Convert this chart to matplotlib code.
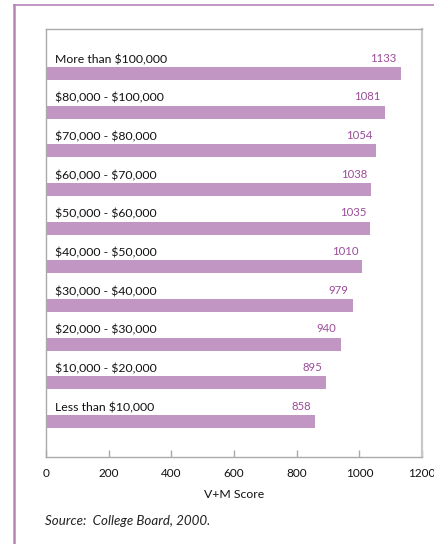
import matplotlib
matplotlib.use("Agg")
import matplotlib.pyplot as plt
from matplotlib.lines import Line2D
import matplotlib.transforms as mtransforms

categories = ["More than $100,000", "$80,000 - $100,000", "$70,000 - $80,000",
              "$60,000 - $70,000", "$50,000 - $60,000", "$40,000 - $50,000",
              "$30,000 - $40,000", "$20,000 - $30,000", "$10,000 - $20,000",
              "Less than $10,000"]
scores = [1133, 1081, 1054, 1038, 1035, 1010, 979, 940, 895, 858]
xticks = [0, 200, 400, 600, 800, 1000, 1200]

W, H = 435, 544
fig = plt.figure(figsize=(W/100, H/100), dpi=100)
plt.rcParams['font.family'] = ['Lato', 'DejaVu Sans']

bar_color = "#C196C2"
val_color = "#9A4D97"
frame_color = "#B784B8"
axis_gray = "#AAAAAA"

# outer purple frame (left and top)
fig.add_artist(Line2D([14/W, 14/W], [0, 1 - 5/H], transform=fig.transFigure,
                      color=frame_color, lw=1.8))
fig.add_artist(Line2D([14/W, 1], [1 - 5/H, 1 - 5/H], transform=fig.transFigure,
                      color=frame_color, lw=1.2))

ax_l, ax_r, ax_t, ax_b = 46, 422, 29, 457
ax = fig.add_axes([ax_l/W, 1 - ax_b/H, (ax_r - ax_l)/W, (ax_b - ax_t)/H])

ypos = list(range(len(categories)))
ax.barh(ypos, scores, height=0.34, color=bar_color, zorder=2)
ax.set_xlim(0, 1200)
ax.set_ylim(9.918, -1.151)

trans = mtransforms.blended_transform_factory(ax.transAxes, ax.transData)
for y, cat, v in zip(ypos, categories, scores):
    ax.text(9/(ax_r - ax_l), y - 0.36, cat, transform=trans, fontsize=8.8,
            color="#111111", va="center", ha="left", parse_math=False)
    ax.annotate(str(v), (v, y - 0.36), xytext=(-3, 1), textcoords="offset points",
                fontsize=8.2, color=val_color, va="center", ha="right")

for s in ax.spines.values():
    s.set_color(axis_gray)
    s.set_linewidth(1.0)
ax.spines['right'].set_linewidth(1.6)
ax.spines['right'].set_color("#C8C8C8")
ax.set_yticks([])
ax.set_xticks(xticks)
ax.set_xticklabels([str(t) for t in xticks])
ax.tick_params(axis='x', direction='in', length=5, width=1, color=axis_gray,
               labelsize=8.5, pad=8, labelcolor="#111111")
ax.set_xlabel("V+M Score", fontsize=8.8, labelpad=7, color="#111111")

fig.text(45/W, 1 - 521/H, "Source:  College Board, 2000.", fontsize=9.6,
         style="italic", color="#222222", va="center", ha="left")

fig.savefig("out.png", dpi=100)
